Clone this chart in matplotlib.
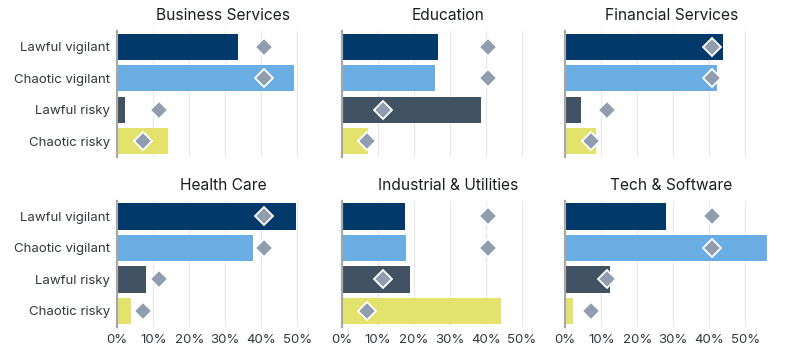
import numpy as np
import matplotlib.pyplot as plt

plt.rcParams["font.family"] = ["Inter", "DejaVu Sans"]

categories = ["Lawful vigilant", "Chaotic vigilant", "Lawful risky", "Chaotic risky"]
sectors = ["Business Services", "Education", "Financial Services",
           "Health Care", "Industrial & Utilities", "Tech & Software"]

# share of organisations per category (%), one list per sector
business = [33.5, 49.1, 2.1, 14.0]
education = [26.8, 25.9, 38.7, 7.2]
financial = [43.8, 42.1, 4.4, 8.5]
health = [49.6, 37.7, 8.0, 3.8]
industrial = [17.6, 17.9, 19.0, 44.3]
tech = [28.0, 56.0, 12.4, 2.1]

# overall benchmark (diamonds), same in every panel
benchmark = [40.7, 40.7, 11.5, 7.0]

values = [business, education, financial, health, industrial, tech]
xticks = [0, 10, 20, 30, 40, 50]

colors = ["#02396a", "#6aade2", "#415363", "#e3e26d"]
diamond_color = "#8f9dae"
text_color = "#33373f"

fig = plt.figure(figsize=(7.88, 3.63), dpi=100)

W, H = 788, 363
lefts = [117.3, 341.7, 565.3]
tops = [31, 200.7]
width_px = 212.4
height_px = 126

y = np.arange(len(categories))

for i, (name, vals) in enumerate(zip(sectors, values)):
    row, col = divmod(i, 3)
    ax = fig.add_axes([lefts[col] / W, 1 - (tops[row] + height_px) / H,
                       width_px / W, height_px / H])
    ax.barh(y, vals, height=0.84, color=colors, zorder=2)
    ax.plot(benchmark, y, linestyle="none", marker="D", ms=9,
            mfc=diamond_color, mec="white", mew=1.3, zorder=3)

    ax.set_xlim(0, 59)
    ax.set_ylim(len(categories) - 0.5, -0.5)
    ax.set_xticks(xticks)
    ax.grid(axis="x", color="#e8e8e8", lw=0.9, zorder=0)
    ax.set_axisbelow(True)
    for side in ["top", "right", "bottom"]:
        ax.spines[side].set_visible(False)
    ax.spines["left"].set_color("#a8a8a8")
    ax.spines["left"].set_linewidth(1.6)
    ax.tick_params(length=0, labelsize=9.5, labelcolor=text_color, pad=5)

    ax.set_yticks(y)
    if col == 0:
        ax.set_yticklabels(categories)
    else:
        ax.set_yticklabels([])
    if row == 1:
        ax.set_xticklabels([f"{t}%" for t in xticks])
    else:
        ax.set_xticklabels([])

    ax.set_title(name, fontsize=11.2, color="#1a1d22", pad=8)

fig.savefig("out.png", dpi=100)
